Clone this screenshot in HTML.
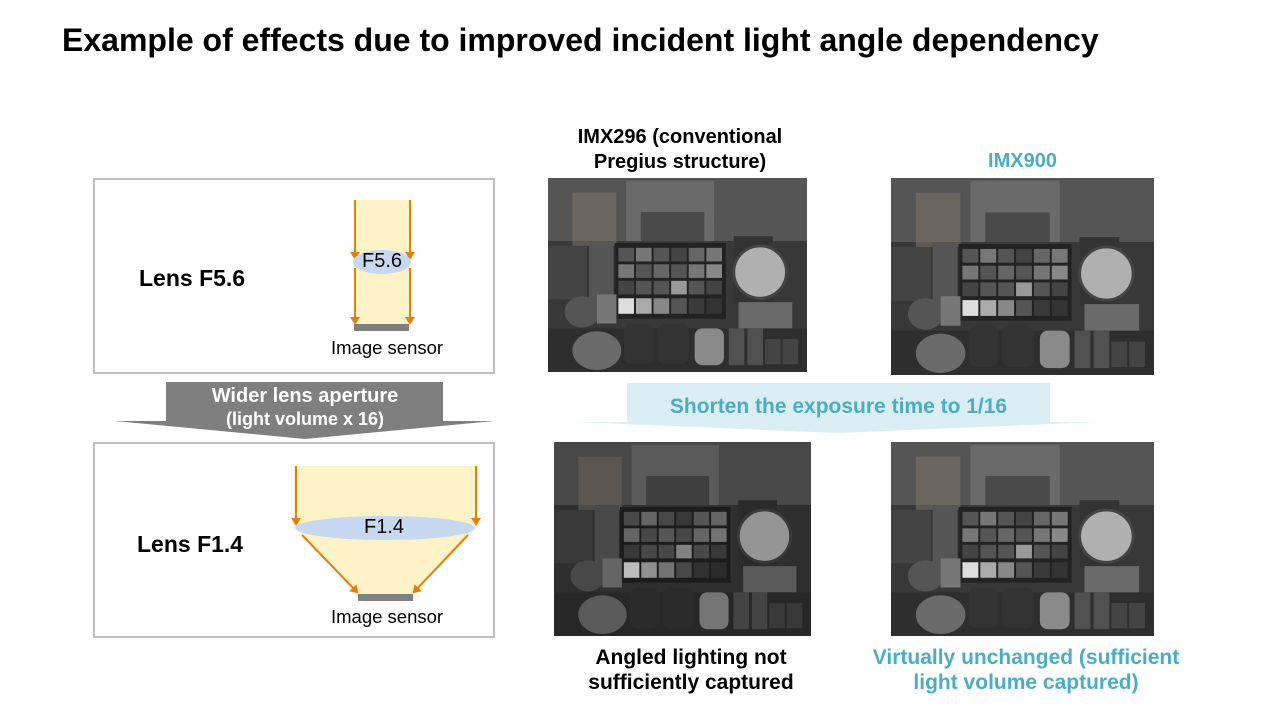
<!DOCTYPE html>
<html><head><meta charset="utf-8"><style>
body{margin:0;width:1280px;height:720px;background:#fff;font-family:"Liberation Sans",sans-serif;position:relative;overflow:hidden}
.t{position:absolute;white-space:nowrap}
</style></head><body>
<svg width="1280" height="720" style="position:absolute;left:0;top:0">
<defs>
<marker id="ar" markerWidth="8" markerHeight="10" refX="6" refY="5" orient="auto" markerUnits="userSpaceOnUse"><path d="M0,0 L8,5 L0,10 z" fill="#e0800e"/></marker>
<symbol id="ph" viewBox="0 0 265 200" preserveAspectRatio="none">
<rect width="265" height="200" fill="#383838"/>
<rect x="0" y="0" width="265" height="65" fill="#555"/>
<rect x="80" y="3" width="90" height="62" fill="#6a6a6a"/>
<rect x="95" y="35" width="65" height="30" fill="#4a4a4a"/>
<rect x="25" y="15" width="45" height="55" fill="#7a7268" opacity=".6"/>
<rect x="0" y="70" width="40" height="55" fill="#444"/>
<rect x="42" y="65" width="25" height="80" fill="#555"/>
<rect x="68" y="67" width="114" height="78" fill="#222"/>
<g fill="#555"><rect x="72" y="72" width="16" height="14"/><rect x="90" y="72" width="16" height="14" fill="#777"/><rect x="108" y="72" width="16" height="14"/><rect x="126" y="72" width="16" height="14" fill="#444"/><rect x="144" y="72" width="16" height="14" fill="#666"/><rect x="162" y="72" width="16" height="14" fill="#777"/>
<rect x="72" y="89" width="16" height="14" fill="#777"/><rect x="90" y="89" width="16" height="14"/><rect x="108" y="89" width="16" height="14" fill="#666"/><rect x="126" y="89" width="16" height="14"/><rect x="144" y="89" width="16" height="14" fill="#777"/><rect x="162" y="89" width="16" height="14" fill="#888"/>
<rect x="72" y="106" width="16" height="14" fill="#444"/><rect x="90" y="106" width="16" height="14"/><rect x="108" y="106" width="16" height="14"/><rect x="126" y="106" width="16" height="14" fill="#999"/><rect x="144" y="106" width="16" height="14"/><rect x="162" y="106" width="16" height="14" fill="#444"/>
<rect x="72" y="124" width="16" height="16" fill="#ddd"/><rect x="90" y="124" width="16" height="16" fill="#aaa"/><rect x="108" y="124" width="16" height="16" fill="#888"/><rect x="126" y="124" width="16" height="16" fill="#555"/><rect x="144" y="124" width="16" height="16" fill="#3a3a3a"/><rect x="162" y="124" width="16" height="16" fill="#333"/></g>
<ellipse cx="210" cy="45" rx="35" ry="10" fill="#555"/>
<rect x="190" y="60" width="40" height="70" fill="#333"/>
<circle cx="217" cy="97" r="27" fill="#b0b0b0" stroke="#444" stroke-width="3"/>
<rect x="195" y="128" width="55" height="28" fill="#6a6a6a"/>
<rect x="0" y="155" width="265" height="45" fill="#2e2e2e"/>
<ellipse cx="50" cy="178" rx="25" ry="20" fill="#6a6a6a"/>
<ellipse cx="35" cy="138" rx="18" ry="16" fill="#555"/>
<rect x="50" y="120" width="20" height="30" fill="#777"/>
<rect x="78" y="150" width="30" height="42" rx="8" fill="#333"/>
<rect x="112" y="150" width="32" height="42" rx="8" fill="#333"/>
<rect x="150" y="155" width="30" height="38" rx="8" fill="#8a8a8a"/>
<rect x="185" y="155" width="16" height="38" fill="#505050"/><rect x="204" y="155" width="16" height="38" fill="#505050"/>
<rect x="222" y="166" width="16" height="26" fill="#444"/><rect x="240" y="166" width="16" height="26" fill="#444"/>
</symbol>
</defs>
<rect x="94" y="179" width="400" height="194" fill="#fff" stroke="#bfbfbf" stroke-width="2"/>
<rect x="94" y="443" width="400" height="194" fill="#fff" stroke="#bfbfbf" stroke-width="2"/>
<rect x="354" y="200" width="56" height="124" fill="#fef3c7"/>
<line x1="355" y1="200" x2="355" y2="258" stroke="#e0800e" stroke-width="2" marker-end="url(#ar)"/>
<line x1="410" y1="200" x2="410" y2="258" stroke="#e0800e" stroke-width="2" marker-end="url(#ar)"/>
<ellipse cx="382" cy="262" rx="29" ry="12" fill="#c6d9f1"/>
<line x1="355" y1="268" x2="355" y2="323" stroke="#e0800e" stroke-width="2" marker-end="url(#ar)"/>
<line x1="410" y1="268" x2="410" y2="323" stroke="#e0800e" stroke-width="2" marker-end="url(#ar)"/>
<rect x="354" y="324" width="55" height="7" fill="#7f7f7f"/>
<rect x="294" y="466" width="184" height="62" fill="#fef3c7"/>
<polygon points="296,528 476,528 412,595 358,595" fill="#fef3c7"/>
<line x1="296" y1="466" x2="296" y2="524" stroke="#e0800e" stroke-width="2" marker-end="url(#ar)"/>
<line x1="476" y1="466" x2="476" y2="524" stroke="#e0800e" stroke-width="2" marker-end="url(#ar)"/>
<ellipse cx="385" cy="528" rx="90" ry="12" fill="#c6d9f1"/>
<line x1="302" y1="535" x2="357" y2="592" stroke="#e0800e" stroke-width="2" marker-end="url(#ar)"/>
<line x1="468" y1="535" x2="414" y2="592" stroke="#e0800e" stroke-width="2" marker-end="url(#ar)"/>
<rect x="358" y="594" width="55" height="7" fill="#7f7f7f"/>
<polygon points="166,382 443,382 443,421 494,421 305,439 115,421 166,421" fill="#7f7f7f"/>
<polygon points="627,383 1050,383 1050,422 1100,422 838,433 575,422 627,422" fill="#dbeef4"/>
<use href="#ph" x="548" y="178" width="259" height="194"/>
<use href="#ph" x="891" y="178" width="263" height="197"/>
<use href="#ph" x="554" y="442" width="257" height="194"/>
<use href="#ph" x="891" y="442" width="263" height="194"/>
<rect x="554" y="442" width="257" height="194" fill="#000" opacity=".15"/>
</svg>
<div class="t" style="left:62px;top:22px;font-size:32px;font-weight:bold">Example of effects due to improved incident light angle dependency</div>
<div class="t" style="left:139px;top:265px;font-size:23px;font-weight:bold">Lens F5.6</div>
<div class="t" style="left:137px;top:531px;font-size:23px;font-weight:bold">Lens F1.4</div>
<div class="t" style="left:362px;top:250px;font-size:20px">F5.6</div>
<div class="t" style="left:364px;top:516px;font-size:20px">F1.4</div>
<div class="t" style="left:331px;top:337px;font-size:18.5px">Image sensor</div>
<div class="t" style="left:331px;top:606px;font-size:18.5px">Image sensor</div>
<div class="t" style="left:155px;top:385px;width:300px;text-align:center;font-size:20px;font-weight:bold;color:#fff;line-height:23px">Wider lens aperture<br><span style="font-size:18px">(light volume x 16)</span></div>
<div class="t" style="left:627px;top:395px;width:423px;text-align:center;font-size:21px;font-weight:bold;color:#4bacc6">Shorten the exposure time to 1/16</div>
<div class="t" style="left:530px;top:125px;width:300px;text-align:center;font-size:20px;font-weight:bold;line-height:25px">IMX296 (conventional<br>Pregius structure)</div>
<div class="t" style="left:891px;top:149px;width:263px;text-align:center;font-size:20px;font-weight:bold;color:#4bacc6;line-height:25px">IMX900</div>
<div class="t" style="left:541px;top:645px;width:300px;text-align:center;font-size:21px;font-weight:bold;line-height:25px">Angled lighting not<br>sufficiently captured</div>
<div class="t" style="left:826px;top:645px;width:400px;text-align:center;font-size:21px;font-weight:bold;color:#4bacc6;line-height:25px">Virtually unchanged (sufficient<br>light volume captured)</div>
</body></html>
